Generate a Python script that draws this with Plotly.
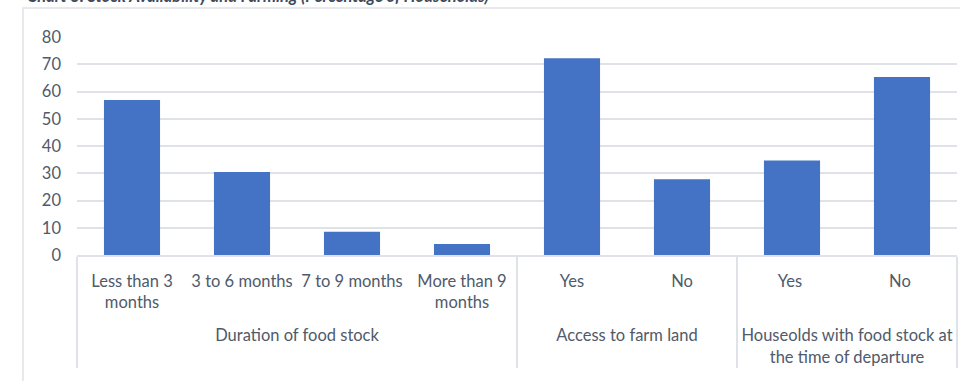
import plotly.graph_objects as go

groups = ["Duration of food stock"] * 4 + ["Access to farm land"] * 2 + ["Houseolds with food stock at<br>the time of departure"] * 2
labels = ["Less than 3<br>months<br>\u00a0", "3 to 6 months", "7 to 9 months", "More than 9<br>months<br>\u00a0", "Yes", "No", "Yes ", "No "]
values = [56.9, 30.5, 8.5, 4.0, 72.2, 27.8, 34.7, 65.3]
yticks = [0, 10, 20, 30, 40, 50, 60, 70, 80]
title_text = "Chart 3: Stock Availability and Farming (Percentage of Households)"

font_family = "Lato, 'Open Sans', sans-serif"
text_color = "#4f5a6b"
grid_color = "#dfe2e7"

fig = go.Figure()
fig.add_trace(go.Bar(
    x=[groups, labels], y=values,
    marker=dict(color="#4472C4", line=dict(width=0)),
    width=0.51,
))

fig.update_layout(
    width=960, height=381,
    margin=dict(l=77, r=3, t=37, b=126),
    paper_bgcolor="white", plot_bgcolor="white",
    showlegend=False,
    font=dict(family=font_family, size=16.5, color=text_color),
    yaxis=dict(
        range=[0, 80], tickvals=yticks, showgrid=True, gridcolor=grid_color, gridwidth=1.5,
        zeroline=False, showline=False, ticks="", ticklabelstandoff=15,
        tickfont=dict(size=16.5, color=text_color),
    ),
    xaxis=dict(
        type="multicategory", showline=True, linecolor=grid_color, linewidth=1.5,
        showdividers=True, dividercolor=grid_color, dividerwidth=1.5,
        ticks="", ticklabelstandoff=10, tickfont=dict(size=16.5, color=text_color),
    ),
    annotations=[dict(
        text="<b><i>" + title_text + "</i></b>", xref="paper", yref="paper",
        x=(25 - 77) / 880, xanchor="left", y=(255 - 8) / 218, yanchor="bottom",
        showarrow=False, font=dict(size=16.5, color="#3f4a5c", family=font_family),
    )],
    shapes=[dict(type="rect", xref="paper", yref="paper",
                 x0=(23 - 77) / 880, x1=1.01, y0=-0.7, y1=(255 - 8) / 218,
                 line=dict(color=grid_color, width=1.5), fillcolor="rgba(0,0,0,0)", layer="below")],
)

fig.write_html("out.html")
